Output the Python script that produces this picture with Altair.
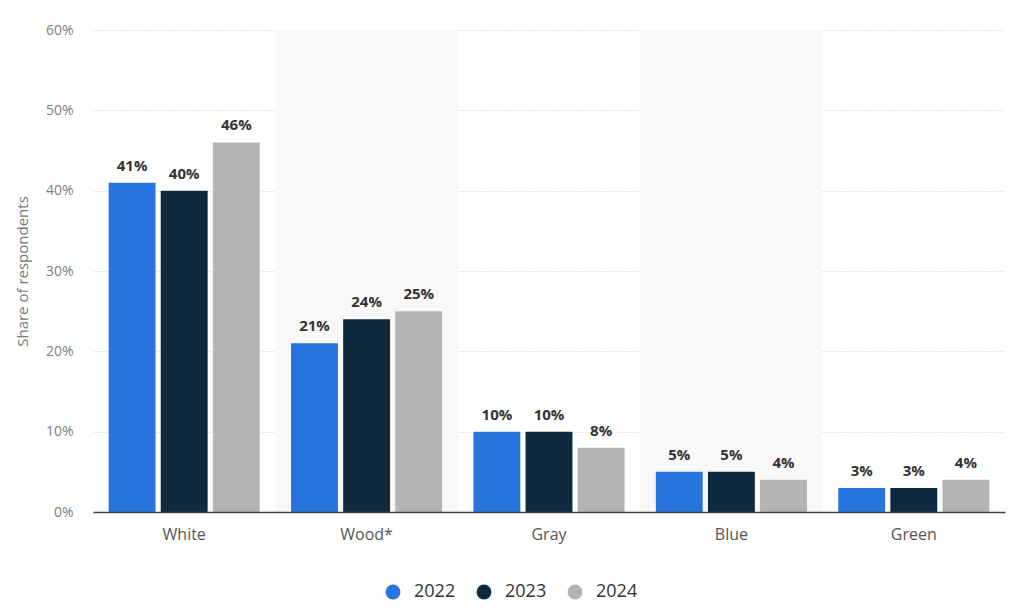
import altair as alt
import pandas as pd

categories = ["White", "Wood*", "Gray", "Blue", "Green"]
years = ["2022", "2023", "2024"]
v2022 = [41, 21, 10, 5, 3]
v2023 = [40, 24, 10, 5, 3]
v2024 = [46, 25, 8, 4, 4]
shaded = ["Wood*", "Blue"]
colors = ["#2876dd", "#0f2a3f", "#b4b4b4"]

rows = []
for yr, vals in zip(years, [v2022, v2023, v2024]):
    for c, v in zip(categories, vals):
        rows.append({"category": c, "year": yr, "value": v, "label": f"{v}%"})
df = pd.DataFrame(rows)
bg = pd.DataFrame({"category": shaded})

font = "Open Sans"
xscale = alt.Scale(domain=categories, paddingInner=0, paddingOuter=0)
xoff = alt.Scale(paddingInner=0.1, paddingOuter=0.3)
yscale = alt.Scale(domain=[0, 60], nice=False)

xenc = alt.X("category:N", scale=xscale, sort=categories,
             axis=alt.Axis(title=None, labelAngle=0, labelAlign="center",
                           labelBaseline="top", labelFontSize=16, labelColor="#555",
                           labelFont=font, labelPadding=14, ticks=False,
                           domainColor="#444", domainWidth=1.5, grid=False))
yenc = alt.Y("value:Q", scale=yscale,
             axis=alt.Axis(title="Share of respondents", titleFont=font, titleFontSize=15,
                           titleFontWeight="normal", titleColor="#777",
                           titleX=-71, titleY=241, titleAngle=-90, titleAlign="center",
                           titleBaseline="middle",
                           values=[0, 10, 20, 30, 40, 50, 60],
                           labelExpr="datum.value + '%'", labelFont=font, labelFontSize=14,
                           labelColor="#808080", labelPadding=20, ticks=False, domain=False,
                           grid=True, gridColor="#cccccc", gridDash=[1, 2], gridWidth=1))

back = alt.Chart(bg).mark_rect(color="#f8f8f8").encode(
    x=alt.X("category:N", scale=xscale, sort=categories),
    y=alt.value(0), y2=alt.value(482))

bars = alt.Chart(df).mark_bar().encode(
    x=xenc,
    xOffset=alt.XOffset("year:N", scale=xoff, sort=years),
    y=yenc,
    color=alt.Color("year:N", scale=alt.Scale(domain=years, range=colors),
                    legend=alt.Legend(title=None, orient="none", legendX=291, legendY=553,
                                      direction="horizontal", symbolType="circle",
                                      symbolSize=220, symbolStrokeWidth=0,
                                      labelFont=font, labelFontSize=18, labelColor="#333",
                                      labelOffset=12, columnPadding=19)))

text = alt.Chart(df).mark_text(dy=-17, fontSize=15, fontWeight="bold", font=font,
                               color="#333").encode(
    x=alt.X("category:N", scale=xscale, sort=categories),
    xOffset=alt.XOffset("year:N", scale=xoff, sort=years),
    y=alt.Y("value:Q", scale=yscale),
    text="label:N")

chart = alt.layer(back, bars, text).properties(
    width=912, height=482,
    background="white",
    autosize=alt.AutoSizeParams(type="none"),
    padding={"left": 93, "top": 30, "right": 19, "bottom": 104},
).configure_view(stroke=None)

chart.save("out.html", embed_options={"renderer": "svg", "actions": False})
